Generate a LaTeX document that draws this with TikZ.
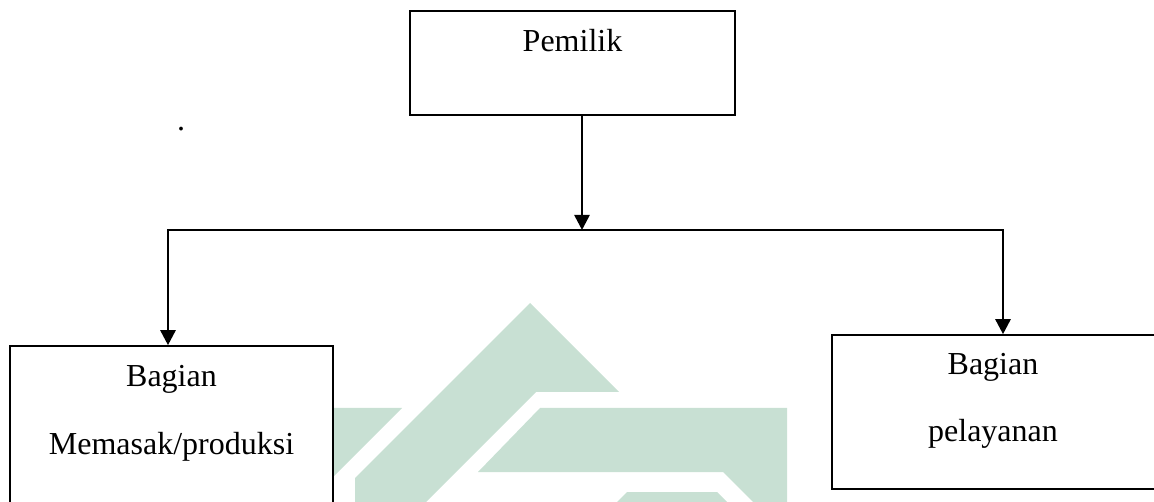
\documentclass[tikz,border=0pt]{standalone}
\usepackage{fontspec}
\setmainfont{Liberation Serif}
\usetikzlibrary{arrows.meta}
\definecolor{crest}{RGB}{200,224,211}
\begin{document}
\begin{tikzpicture}[x=1pt,y=-1pt,
  unit/.style={draw, line width=1.6pt, fill=white, rectangle, inner sep=0pt},
  lbl/.style={anchor=base, inner sep=0pt, font=\fontsize{32}{38}\selectfont},
  feed/.style={line width=2.6pt, -{Triangle[width=15pt,length=15pt]}}]
\useasboundingbox (0,0) rectangle (1154,502);
\clip (0,0) rectangle (1154,502);

% faint crest in the background
\fill[crest] (300,408) -- (402,408) -- (300,510) -- cycle;
\fill[crest] (530,303) -- (619,392) -- (536,392) -- (416,512) -- (355,512) -- (355,478) -- cycle;
\fill[crest] (540,408) -- (787,408) -- (787,512) -- (763,512) -- (723,472) -- (478,472) -- cycle;
\fill[crest] (627,492) -- (717,492) -- (737,512) -- (607,512) -- cycle;

% boxes
\node[unit, minimum width=325pt, minimum height=104pt] (owner) at (572.5,63) {};
\node[unit, minimum width=323pt, minimum height=214pt] (cook) at (171.5,453) {};
\node[unit, minimum width=328pt, minimum height=154pt] (serve) at (996,412) {};

% labels
\node[lbl] (t0) at (572.5,52) {Pemilik};
\node[lbl] (t1) at (171.5,387) {Bagian};
\node[lbl] (t2) at (171.5,454) {Memasak/produksi};
\node[lbl] (t3) at (993,375) {Bagian};
\node[lbl] (t4) at (993,442) {pelayanan};
\node[lbl] (dot) at (181,131) {.};

% connectors
\coordinate (hub) at (582,230);
\coordinate (lt) at (168,230);
\coordinate (rt) at (1003,230);
\draw[feed] (hub |- owner.south) -- (hub);
\draw[feed] (hub) -- (lt) -- (lt |- cook.north);
\draw[feed] (hub) -- (rt) -- (rt |- serve.north);
\end{tikzpicture}
\end{document}
